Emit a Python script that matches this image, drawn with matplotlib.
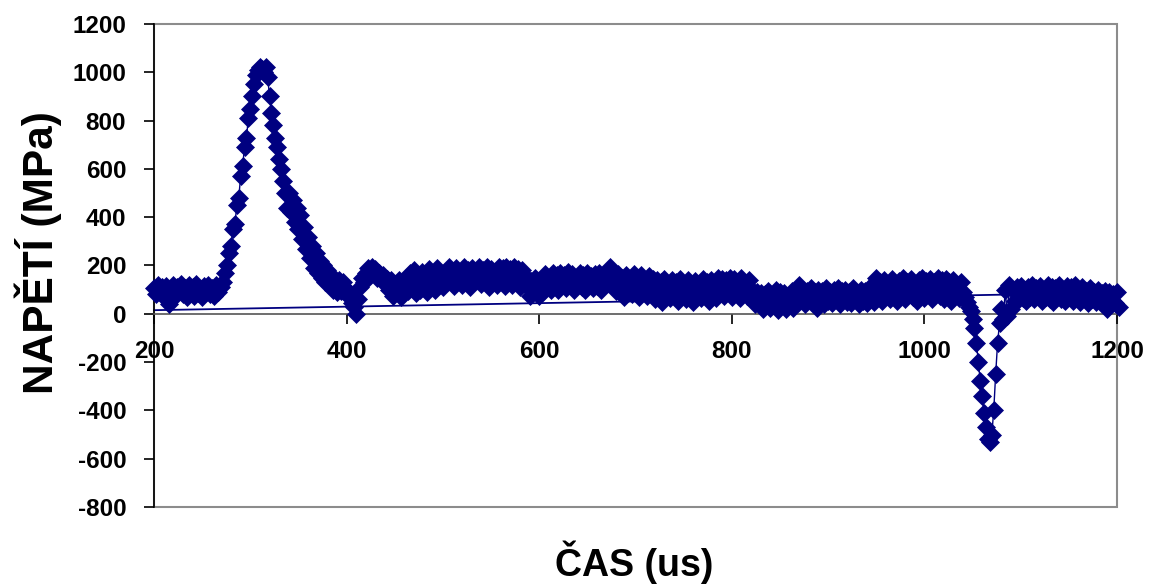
import numpy as np
import matplotlib
matplotlib.use("Agg")
import matplotlib.pyplot as plt
from matplotlib.patches import Rectangle

# ---- data (time step 2 us, starting at 200 us) ----
t_start = 200
t_step = 2
stress = [
    105, 80, 120, 90, 110, 70, 115, 85, 40, 95,
    120, 75, 110, 95, 125, 80, 105, 70, 120, 90,
    110, 75, 125, 85, 100, 70, 115, 90, 120, 80,
    105, 75, 120, 90, 110, 110, 130, 170, 200, 250,
    280, 350, 370, 450, 480, 570, 610, 690, 730, 810,
    850, 900, 950, 990, 1010, 1020, 1015, 1000, 1020, 980,
    900, 830, 780, 730, 690, 640, 600, 550, 500, 440,
    500, 420, 470, 380, 440, 350, 410, 310, 360, 270,
    320, 230, 280, 190, 250, 170, 220, 150, 200, 130,
    180, 120, 160, 100, 140, 90, 140, 95, 130, 90,
    100, 70, 85, 45, 30, 0, 60, 110, 150, 130,
    170, 190, 160, 195, 175, 185, 150, 170, 140, 160,
    130, 145, 100, 140, 75, 125, 90, 140, 70, 120,
    85, 150, 95, 170, 110, 180, 85, 150, 100, 175,
    120, 160, 90, 185, 130, 170, 100, 190, 120, 165,
    110, 175, 130, 195, 140, 170, 115, 190, 150, 175,
    120, 195, 140, 180, 110, 190, 135, 175, 150, 195,
    125, 180, 145, 195, 110, 185, 140, 175, 120, 195,
    140, 190, 115, 195, 150, 185, 120, 195, 140, 185,
    110, 180, 150, 120, 145, 75, 135, 90, 150, 100,
    75, 140, 95, 165, 110, 150, 100, 170, 120, 160,
    100, 170, 125, 160, 105, 175, 120, 165, 100, 150,
    125, 170, 110, 160, 100, 170, 130, 155, 105, 165,
    115, 170, 100, 160, 125, 175, 150, 195, 120, 170,
    95, 165, 110, 150, 70, 160, 100, 145, 80, 165,
    110, 150, 70, 160, 95, 140, 75, 155, 100, 145,
    60, 140, 90, 130, 50, 145, 80, 125, 65, 140,
    95, 130, 55, 145, 85, 120, 60, 140, 100, 125,
    50, 135, 90, 120, 65, 145, 85, 130, 55, 140,
    95, 125, 65, 150, 100, 145, 75, 140, 90, 150,
    70, 145, 105, 130, 65, 150, 95, 120, 75, 140,
    100, 95, 40, 90, 55, 85, 20, 80, 50, 95,
    25, 75, 60, 100, 15, 90, 40, 85, 20, 70,
    55, 95, 25, 85, 45, 120, 70, 100, 40, 95,
    60, 105, 45, 90, 25, 100, 65, 95, 40, 105,
    55, 90, 45, 100, 60, 105, 40, 95, 65, 100,
    50, 90, 45, 105, 60, 85, 40, 100, 55, 95,
    45, 105, 70, 90, 50, 150, 95, 130, 55, 140,
    80, 125, 60, 145, 90, 120, 55, 135, 80, 150,
    60, 130, 95, 145, 70, 125, 55, 140, 85, 150,
    65, 135, 90, 145, 60, 130, 100, 150, 75, 140,
    60, 145, 90, 130, 55, 140, 80, 120, 65, 130,
    90, 70, 50, 30, 10, -20, -60, -120, -200, -280,
    -340, -410, -470, -520, -530, -500, -400, -250, -120, -40,
    20, -20, 100, -10, 120, 20, 100, 55, 110, 60,
    115, 65, 100, 55, 110, 70, 120, 60, 105, 75,
    115, 55, 100, 70, 120, 60, 110, 50, 105, 70,
    120, 60, 100, 55, 115, 70, 110, 55, 120, 65,
    100, 50, 110, 65, 95, 45, 105, 60, 90, 50,
    100, 55, 85, 40, 95, 20, 90, 50, 80, 45,
    90, 30,
]
time_us = np.arange(len(stress)) * t_step + t_start

trend_time = [200, 1202]
trend_stress = [15, 88]

x_ticks = [200, 400, 600, 800, 1000, 1200]
y_ticks = [-800, -600, -400, -200, 0, 200, 400, 600, 800, 1000, 1200]
x_label = "ČAS (us)"
y_label = "NAPĚTÍ (MPa)"

# ---- figure ----
plt.rcParams['font.family'] = ['Liberation Sans', 'DejaVu Sans']
plt.rcParams['font.weight'] = 'bold'
plt.rcParams['axes.unicode_minus'] = False

W, H = 1152, 586
fig = plt.figure(figsize=(W / 100, H / 100), dpi=100)
ax = fig.add_axes([154 / W, 1 - 507 / H, (1117 - 154) / W, (507 - 24) / H])

navy = '#000080'
ax.plot(trend_time, trend_stress, color=navy, lw=1.3, zorder=2, clip_on=False)
ax.plot(time_us, stress, color=navy, lw=1.0, marker='D', ms=9,
        mfc=navy, mec=navy, mew=0.5, zorder=3, clip_on=False)

ax.set_xlim(200, 1200)
ax.set_ylim(-800, 1200)
ax.set_xticks(x_ticks)
ax.set_yticks(y_ticks)

for s in ['top', 'right']:
    ax.spines[s].set_visible(False)
ax.spines['bottom'].set_position(('data', 0))
ax.spines['bottom'].set_color('#555555')
ax.spines['bottom'].set_linewidth(1.2)
ax.spines['left'].set_color('black')
ax.spines['left'].set_linewidth(1.2)
ax.add_patch(Rectangle((0, 0), 1, 1, transform=ax.transAxes, fill=False,
                       edgecolor='#8c8c8c', lw=1.5, zorder=0.5, clip_on=False))

ax.tick_params(axis='x', direction='out', length=7, width=1.2, color='black',
               pad=12, labelsize=17.5)
ax.tick_params(axis='y', direction='out', length=7, width=1.2, color='black',
               pad=13, labelsize=17.5)
for lab in ax.get_xticklabels() + ax.get_yticklabels():
    lab.set_fontweight('bold')

fig.text(38 / W, 1 - 253 / H, y_label, rotation=90, ha='center', va='center',
         fontsize=30.5, fontweight='bold')
fig.text(634 / W, 1 - 562 / H, x_label, ha='center', va='center',
         fontsize=27, fontweight='bold')

fig.savefig('out.png', dpi=100)
